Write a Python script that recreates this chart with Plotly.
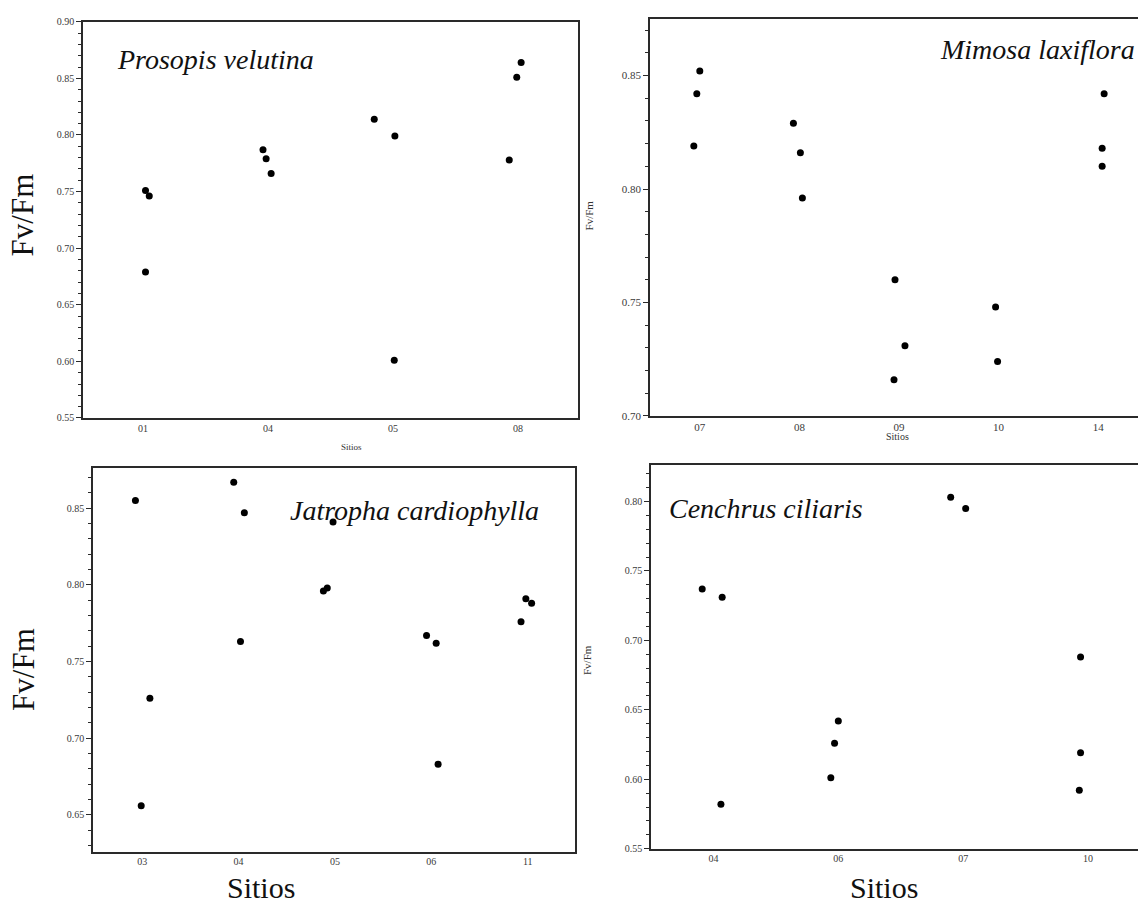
import plotly.graph_objects as go

# ---------------- data ----------------
# Panel A: Prosopis velutina
pv_sites = ["01", "04", "05", "08"]
pv_site_of_point = ["01", "01", "01", "04", "04", "04", "05", "05", "05", "08", "08", "08"]
pv_jitter = [0.02, 0.05, 0.02, -0.04, -0.015, 0.025, -0.15, 0.015, 0.01, 0.025, -0.01, -0.07]
pv_fvfm = [0.751, 0.746, 0.679, 0.787, 0.779, 0.766, 0.814, 0.799, 0.601, 0.864, 0.851, 0.778]

# Panel B: Mimosa laxiflora
ml_sites = ["07", "08", "09", "10", "14"]
ml_site_of_point = ["07", "07", "07", "08", "08", "08", "09", "09", "09", "10", "10", "14", "14", "14"]
ml_jitter = [0.0, -0.03, -0.06, -0.06, 0.01, 0.03, -0.04, 0.06, -0.05, -0.03, -0.01, 0.06, 0.04, 0.04]
ml_fvfm = [0.852, 0.842, 0.819, 0.829, 0.816, 0.796, 0.760, 0.731, 0.716, 0.748, 0.724, 0.842, 0.818, 0.810]

# Panel C: Jatropha cardiophylla
jc_sites = ["03", "04", "05", "06", "11"]
jc_site_of_point = ["03", "03", "03", "04", "04", "04", "05", "05", "05", "06", "06", "06", "11", "11", "11"]
jc_jitter = [-0.07, 0.08, -0.01, -0.05, 0.06, 0.02, -0.02, -0.12, -0.08, -0.05, 0.05, 0.07, -0.02, 0.04, -0.07]
jc_fvfm = [0.855, 0.726, 0.656, 0.867, 0.847, 0.763, 0.841, 0.796, 0.798, 0.767, 0.762, 0.683, 0.791, 0.788, 0.776]

# Panel D: Cenchrus ciliaris
cc_sites = ["04", "06", "07", "10"]
cc_site_of_point = ["04", "04", "04", "06", "06", "06", "07", "07", "10", "10", "10"]
cc_jitter = [-0.09, 0.07, 0.06, 0.0, -0.03, -0.06, -0.1, 0.02, -0.06, -0.06, -0.07]
cc_fvfm = [0.737, 0.731, 0.582, 0.642, 0.626, 0.601, 0.803, 0.795, 0.688, 0.619, 0.592]

# ---------------- figure ----------------
SERIF = "Liberation Serif, Times New Roman, Times, serif"
AX = "#2a2a2a"
TICKC = "#3a3a3a"

W, H = 1138, 912

def px_x(p):
    return p / W

def px_y(p):
    return 1 - p / H

panels = [
    dict(sites=pv_sites, pts=pv_site_of_point, jit=pv_jitter, val=pv_fvfm,
         xdom=[px_x(83), px_x(578)], ydom=[px_y(418), px_y(17)],
         xr=[-0.48, 3.48], yr=[0.55, 0.90], mirror_right=True, tsize=10),
    dict(sites=ml_sites, pts=ml_site_of_point, jit=ml_jitter, val=ml_fvfm,
         xdom=[px_x(650), 1.0], ydom=[px_y(416), px_y(14)],
         xr=[-0.5, 4.40], yr=[0.70, 0.875], mirror_right=False, tsize=11),
    dict(sites=jc_sites, pts=jc_site_of_point, jit=jc_jitter, val=jc_fvfm,
         xdom=[px_x(93), px_x(575)], ydom=[px_y(857), px_y(469)],
         xr=[-0.51, 4.49], yr=[0.626, 0.876], mirror_right=True, tsize=10),
    dict(sites=cc_sites, pts=cc_site_of_point, jit=cc_jitter, val=cc_fvfm,
         xdom=[px_x(651), 1.0], ydom=[px_y(854), px_y(466)],
         xr=[-0.5, 3.4], yr=[0.55, 0.826], mirror_right=False, tsize=10),
]

fig = go.Figure()
layout = dict(
    width=W, height=H,
    margin=dict(l=0, r=0, t=0, b=0),
    paper_bgcolor="white", plot_bgcolor="white",
    showlegend=False,
    font=dict(family=SERIF, color="#222"),
)

for i, p in enumerate(panels, start=1):
    xs = [p["sites"].index(s) + j for s, j in zip(p["pts"], p["jit"])]
    suffix = "" if i == 1 else str(i)
    fig.add_trace(go.Scatter(
        x=xs, y=p["val"], mode="markers",
        marker=dict(color="black", size=7),
        xaxis="x" + suffix, yaxis="y" + suffix,
        hoverinfo="skip",
    ))
    layout["xaxis" + suffix] = dict(
        domain=p["xdom"], range=p["xr"], anchor="y" + suffix,
        tickmode="array", tickvals=list(range(len(p["sites"]))), ticktext=p["sites"],
        ticks="", showgrid=False, zeroline=False,
        showline=True, linecolor=AX, linewidth=1.6, mirror=True,
        tickfont=dict(family=SERIF, size=p["tsize"], color=TICKC),
    )
    layout["yaxis" + suffix] = dict(
        domain=p["ydom"], range=p["yr"], anchor="x" + suffix,
        tick0=0, dtick=0.05, tickformat=".2f",
        ticks="outside", ticklen=5, tickwidth=1.2, tickcolor=AX,
        minor=dict(tick0=0, dtick=0.01, ticks="outside", ticklen=3, tickwidth=1, tickcolor=AX),
        showgrid=False, zeroline=False,
        showline=True, linecolor=AX, linewidth=1.6, mirror=p["mirror_right"],
        tickfont=dict(family=SERIF, size=p["tsize"], color=TICKC),
    )

fig.update_layout(**layout)

ann = []
def add(text, x, y, size, xanchor="center", angle=0, italic=False, color="#111"):
    ann.append(dict(
        text=("<i>%s</i>" % text) if italic else text,
        x=px_x(x), y=px_y(y), xref="paper", yref="paper",
        xanchor=xanchor, yanchor="middle", showarrow=False, textangle=angle,
        font=dict(family=SERIF, size=size, color=color),
    ))

# species titles
add("Prosopis velutina", 115, 55, 28, xanchor="left", italic=True)
add("Mimosa laxiflora", 1137, 45, 28, xanchor="right", italic=True)
add("Jatropha cardiophylla", 288, 512, 28, xanchor="left", italic=True)
add("Cenchrus ciliaris", 667, 510, 28, xanchor="left", italic=True)

# axis titles
add("Fv/Fm", 22, 213, 31, angle=-90)
add("Fv/Fm", 24, 673, 31, angle=-90)
add("Fv/Fm", 589, 213, 11, angle=-90, color="#333")
add("Fv/Fm", 587, 663, 11, angle=-90, color="#333")
add("Sitios", 351, 447, 9, color="#333")
add("Sitios", 897, 437, 10, color="#333")
add("Sitios", 261, 893, 30)
add("Sitios", 884, 893, 30)

fig.update_layout(annotations=ann)

fig.write_html("out.html")
